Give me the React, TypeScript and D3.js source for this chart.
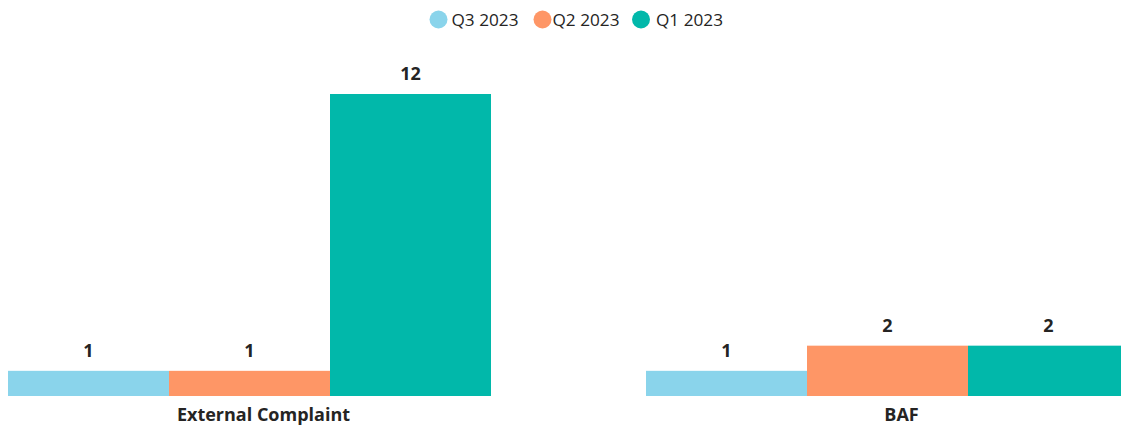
import React from "react";
import * as d3 from "d3";

const categories = ["External Complaint", "BAF"];
const seriesNames = ["Q3 2023", "Q2 2023", "Q1 2023"];
const q3Values = [1, 1];
const q2Values = [1, 2];
const q1Values = [12, 2];
const seriesColors = ["#8AD4EB", "#FE9666", "#01B8AA"];

const W = 1121;
const H = 429;
const FONT = "'Open Sans', 'Segoe UI', sans-serif";
const TEXT = "#252423";

export default function App() {
  const values = [q3Values, q2Values, q1Values];
  const x0 = d3.scaleBand<string>().domain(categories).range([8, 1129]).paddingInner(155 / 638).paddingOuter(0);
  const x1 = d3.scaleBand<string>().domain(seriesNames).range([0, x0.bandwidth()]).padding(0);
  const y = d3.scaleLinear().domain([0, 12]).range([396, 94]);

  const legendItems = [
    { cx: 438.5, tx: 451.5 },
    { cx: 542.5, tx: 552.5 },
    { cx: 641, tx: 656 },
  ];

  return (
    <svg width={W} height={H} style={{ position: "fixed", left: 0, top: 0, background: "#fff" }}>
      <g>
        {seriesNames.map((s, i) => (
          <g key={s}>
            <circle cx={legendItems[i].cx} cy={19.5} r={9} fill={seriesColors[i]} />
            <text x={legendItems[i].tx} y={26} fontFamily={FONT} fontSize={17.2} fill={TEXT}>{s}</text>
          </g>
        ))}
      </g>
      {categories.map((c, ci) => (
        <g key={c} transform={`translate(${x0(c)},0)`}>
          {seriesNames.map((s, si) => {
            const v = values[si][ci];
            const bx = x1(s)!;
            return (
              <g key={s}>
                <rect x={bx} y={y(v)} width={x1.bandwidth()} height={y(0) - y(v)} fill={seriesColors[si]} />
                <text x={bx + x1.bandwidth() / 2} y={y(v) - 14} textAnchor="middle" fontFamily={FONT} fontWeight="bold" fontSize={18} fill={TEXT}>{v}</text>
              </g>
            );
          })}
          <text x={x0.bandwidth() / 2 + 14} y={421} textAnchor="middle" fontFamily={FONT} fontWeight="bold" fontSize={18} fill={TEXT}>{c}</text>
        </g>
      ))}
    </svg>
  );
}
